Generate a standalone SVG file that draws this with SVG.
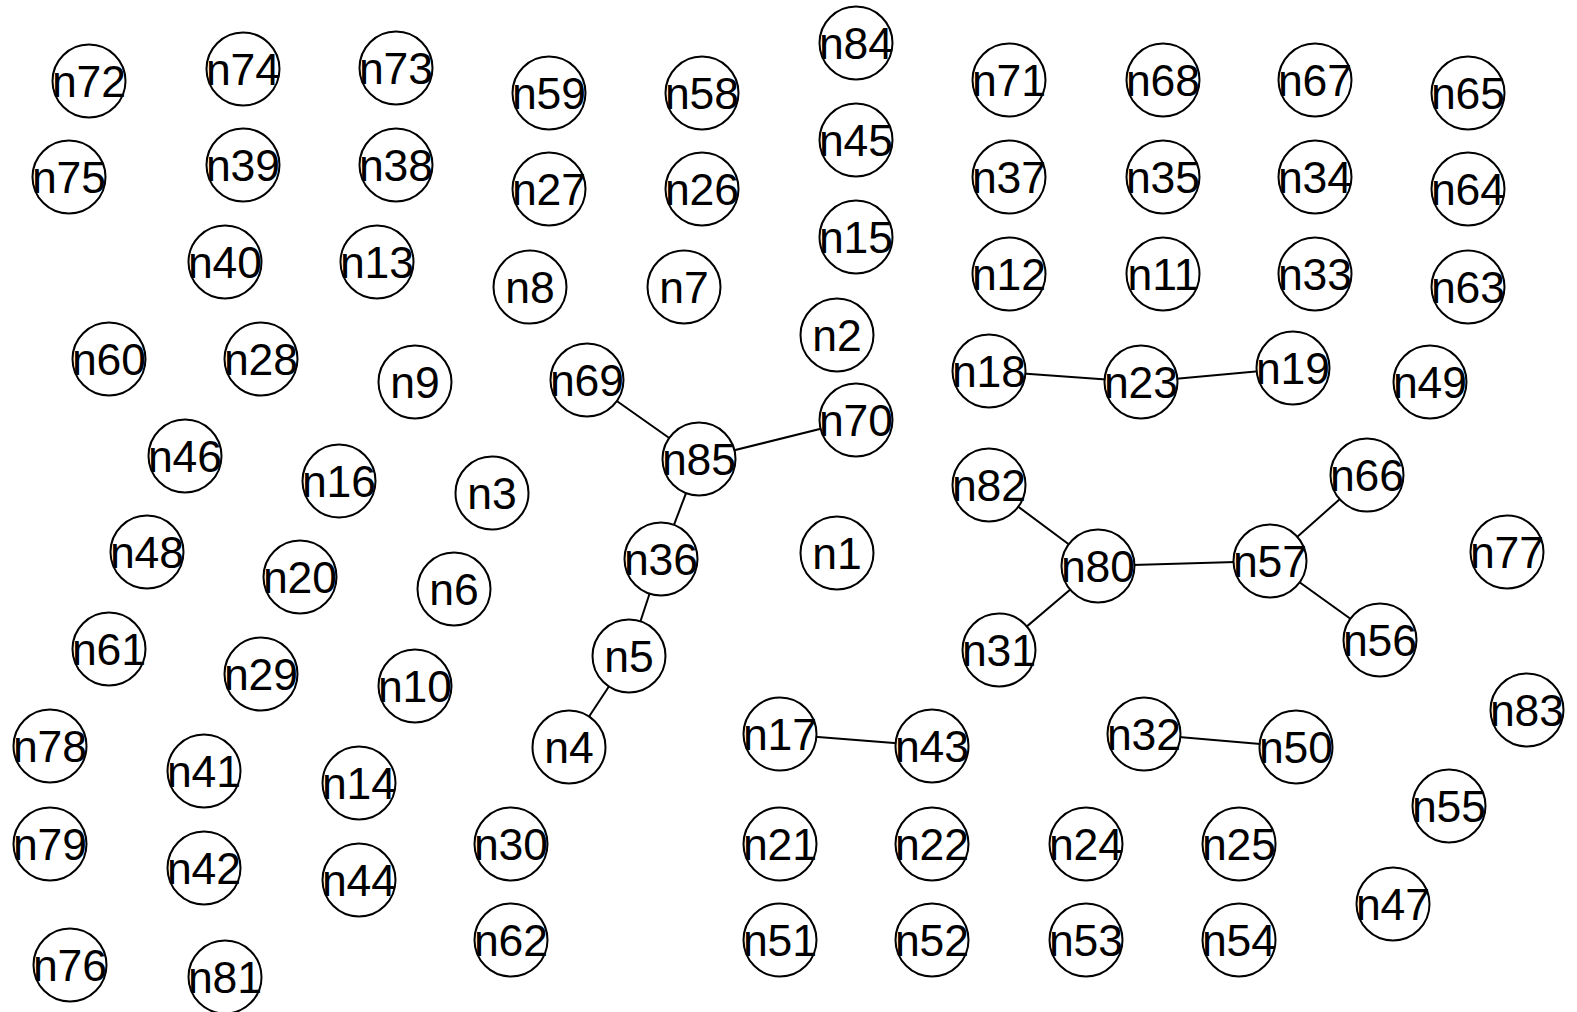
<svg xmlns="http://www.w3.org/2000/svg" width="1577" height="1012" viewBox="0 0 1577 1012">
<style>
.e{stroke:#000;stroke-width:2;fill:none}
.n circle{fill:#fff;stroke:#000;stroke-width:2}
.n text{font-family:"Liberation Sans",Arial,sans-serif;font-size:44.5px;fill:#000;text-anchor:middle}
</style>
<rect width="1577" height="1012" fill="#fff"/>
<g id="edges">
<line class="e" x1="587" y1="380" x2="699" y2="459"/>
<line class="e" x1="699" y1="459" x2="856" y2="420"/>
<line class="e" x1="699" y1="459" x2="661" y2="559"/>
<line class="e" x1="661" y1="559" x2="629" y2="656"/>
<line class="e" x1="629" y1="656" x2="569" y2="747"/>
<line class="e" x1="989" y1="371" x2="1141" y2="382"/>
<line class="e" x1="1141" y1="382" x2="1293" y2="368"/>
<line class="e" x1="989" y1="485" x2="1098" y2="566"/>
<line class="e" x1="1098" y1="566" x2="1270" y2="561"/>
<line class="e" x1="1098" y1="566" x2="999" y2="650"/>
<line class="e" x1="1270" y1="561" x2="1367" y2="475"/>
<line class="e" x1="1270" y1="561" x2="1380" y2="640"/>
<line class="e" x1="780" y1="734" x2="932" y2="746"/>
<line class="e" x1="1144" y1="734" x2="1296" y2="747"/>
</g>
<g id="n72" class="n"><circle cx="89" cy="81" r="36.5"/><text x="89" y="97">n72</text></g>
<g id="n74" class="n"><circle cx="243" cy="69" r="36.5"/><text x="243" y="85">n74</text></g>
<g id="n73" class="n"><circle cx="396" cy="68" r="36.5"/><text x="396" y="84">n73</text></g>
<g id="n59" class="n"><circle cx="549" cy="93" r="36.5"/><text x="549" y="109">n59</text></g>
<g id="n58" class="n"><circle cx="702" cy="93" r="36.5"/><text x="702" y="109">n58</text></g>
<g id="n84" class="n"><circle cx="856" cy="43" r="36.5"/><text x="856" y="59">n84</text></g>
<g id="n71" class="n"><circle cx="1009" cy="80" r="36.5"/><text x="1009" y="96">n71</text></g>
<g id="n68" class="n"><circle cx="1163" cy="80" r="36.5"/><text x="1163" y="96">n68</text></g>
<g id="n67" class="n"><circle cx="1315" cy="80" r="36.5"/><text x="1315" y="96">n67</text></g>
<g id="n65" class="n"><circle cx="1468" cy="93" r="36.5"/><text x="1468" y="109">n65</text></g>
<g id="n75" class="n"><circle cx="69" cy="177" r="36.5"/><text x="69" y="193">n75</text></g>
<g id="n39" class="n"><circle cx="243" cy="165" r="36.5"/><text x="243" y="181">n39</text></g>
<g id="n38" class="n"><circle cx="396" cy="165" r="36.5"/><text x="396" y="181">n38</text></g>
<g id="n27" class="n"><circle cx="549" cy="189" r="36.5"/><text x="549" y="205">n27</text></g>
<g id="n26" class="n"><circle cx="702" cy="189" r="36.5"/><text x="702" y="205">n26</text></g>
<g id="n45" class="n"><circle cx="856" cy="140" r="36.5"/><text x="856" y="156">n45</text></g>
<g id="n37" class="n"><circle cx="1009" cy="177" r="36.5"/><text x="1009" y="193">n37</text></g>
<g id="n35" class="n"><circle cx="1163" cy="177" r="36.5"/><text x="1163" y="193">n35</text></g>
<g id="n34" class="n"><circle cx="1315" cy="177" r="36.5"/><text x="1315" y="193">n34</text></g>
<g id="n64" class="n"><circle cx="1468" cy="189" r="36.5"/><text x="1468" y="205">n64</text></g>
<g id="n40" class="n"><circle cx="225" cy="262" r="36.5"/><text x="225" y="278">n40</text></g>
<g id="n13" class="n"><circle cx="377" cy="262" r="36.5"/><text x="377" y="278">n13</text></g>
<g id="n8" class="n"><circle cx="530" cy="287" r="36.5"/><text x="530" y="303">n8</text></g>
<g id="n7" class="n"><circle cx="684" cy="287" r="36.5"/><text x="684" y="303">n7</text></g>
<g id="n15" class="n"><circle cx="856" cy="237" r="36.5"/><text x="856" y="253">n15</text></g>
<g id="n12" class="n"><circle cx="1009" cy="274" r="36.5"/><text x="1009" y="290">n12</text></g>
<g id="n11" class="n"><circle cx="1163" cy="274" r="36.5"/><text x="1163" y="290">n11</text></g>
<g id="n33" class="n"><circle cx="1315" cy="274" r="36.5"/><text x="1315" y="290">n33</text></g>
<g id="n63" class="n"><circle cx="1468" cy="287" r="36.5"/><text x="1468" y="303">n63</text></g>
<g id="n2" class="n"><circle cx="837" cy="335" r="36.5"/><text x="837" y="351">n2</text></g>
<g id="n60" class="n"><circle cx="109" cy="359" r="36.5"/><text x="109" y="375">n60</text></g>
<g id="n28" class="n"><circle cx="261" cy="359" r="36.5"/><text x="261" y="375">n28</text></g>
<g id="n9" class="n"><circle cx="415" cy="382" r="36.5"/><text x="415" y="398">n9</text></g>
<g id="n69" class="n"><circle cx="587" cy="380" r="36.5"/><text x="587" y="396">n69</text></g>
<g id="n18" class="n"><circle cx="989" cy="371" r="36.5"/><text x="989" y="387">n18</text></g>
<g id="n23" class="n"><circle cx="1141" cy="382" r="36.5"/><text x="1141" y="398">n23</text></g>
<g id="n19" class="n"><circle cx="1293" cy="368" r="36.5"/><text x="1293" y="384">n19</text></g>
<g id="n49" class="n"><circle cx="1430" cy="382" r="36.5"/><text x="1430" y="398">n49</text></g>
<g id="n85" class="n"><circle cx="699" cy="459" r="36.5"/><text x="699" y="475">n85</text></g>
<g id="n70" class="n"><circle cx="856" cy="420" r="36.5"/><text x="856" y="436">n70</text></g>
<g id="n46" class="n"><circle cx="185" cy="456" r="36.5"/><text x="185" y="472">n46</text></g>
<g id="n16" class="n"><circle cx="339" cy="481" r="36.5"/><text x="339" y="497">n16</text></g>
<g id="n3" class="n"><circle cx="492" cy="493" r="36.5"/><text x="492" y="509">n3</text></g>
<g id="n82" class="n"><circle cx="989" cy="485" r="36.5"/><text x="989" y="501">n82</text></g>
<g id="n66" class="n"><circle cx="1367" cy="475" r="36.5"/><text x="1367" y="491">n66</text></g>
<g id="n48" class="n"><circle cx="147" cy="552" r="36.5"/><text x="147" y="568">n48</text></g>
<g id="n20" class="n"><circle cx="300" cy="577" r="36.5"/><text x="300" y="593">n20</text></g>
<g id="n6" class="n"><circle cx="454" cy="589" r="36.5"/><text x="454" y="605">n6</text></g>
<g id="n36" class="n"><circle cx="661" cy="559" r="36.5"/><text x="661" y="575">n36</text></g>
<g id="n1" class="n"><circle cx="837" cy="553" r="36.5"/><text x="837" y="569">n1</text></g>
<g id="n80" class="n"><circle cx="1098" cy="566" r="36.5"/><text x="1098" y="582">n80</text></g>
<g id="n57" class="n"><circle cx="1270" cy="561" r="36.5"/><text x="1270" y="577">n57</text></g>
<g id="n77" class="n"><circle cx="1507" cy="552" r="36.5"/><text x="1507" y="568">n77</text></g>
<g id="n61" class="n"><circle cx="109" cy="649" r="36.5"/><text x="109" y="665">n61</text></g>
<g id="n29" class="n"><circle cx="261" cy="674" r="36.5"/><text x="261" y="690">n29</text></g>
<g id="n10" class="n"><circle cx="415" cy="686" r="36.5"/><text x="415" y="702">n10</text></g>
<g id="n5" class="n"><circle cx="629" cy="656" r="36.5"/><text x="629" y="672">n5</text></g>
<g id="n31" class="n"><circle cx="999" cy="650" r="36.5"/><text x="999" y="666">n31</text></g>
<g id="n56" class="n"><circle cx="1380" cy="640" r="36.5"/><text x="1380" y="656">n56</text></g>
<g id="n83" class="n"><circle cx="1527" cy="710" r="36.5"/><text x="1527" y="726">n83</text></g>
<g id="n78" class="n"><circle cx="50" cy="746" r="36.5"/><text x="50" y="762">n78</text></g>
<g id="n41" class="n"><circle cx="204" cy="771" r="36.5"/><text x="204" y="787">n41</text></g>
<g id="n14" class="n"><circle cx="359" cy="783" r="36.5"/><text x="359" y="799">n14</text></g>
<g id="n4" class="n"><circle cx="569" cy="747" r="36.5"/><text x="569" y="763">n4</text></g>
<g id="n17" class="n"><circle cx="780" cy="734" r="36.5"/><text x="780" y="750">n17</text></g>
<g id="n43" class="n"><circle cx="932" cy="746" r="36.5"/><text x="932" y="762">n43</text></g>
<g id="n32" class="n"><circle cx="1144" cy="734" r="36.5"/><text x="1144" y="750">n32</text></g>
<g id="n50" class="n"><circle cx="1296" cy="747" r="36.5"/><text x="1296" y="763">n50</text></g>
<g id="n55" class="n"><circle cx="1449" cy="806" r="36.5"/><text x="1449" y="822">n55</text></g>
<g id="n79" class="n"><circle cx="50" cy="844" r="36.5"/><text x="50" y="860">n79</text></g>
<g id="n42" class="n"><circle cx="204" cy="868" r="36.5"/><text x="204" y="884">n42</text></g>
<g id="n44" class="n"><circle cx="359" cy="880" r="36.5"/><text x="359" y="896">n44</text></g>
<g id="n30" class="n"><circle cx="511" cy="844" r="36.5"/><text x="511" y="860">n30</text></g>
<g id="n21" class="n"><circle cx="780" cy="844" r="36.5"/><text x="780" y="860">n21</text></g>
<g id="n22" class="n"><circle cx="932" cy="844" r="36.5"/><text x="932" y="860">n22</text></g>
<g id="n24" class="n"><circle cx="1086" cy="844" r="36.5"/><text x="1086" y="860">n24</text></g>
<g id="n25" class="n"><circle cx="1239" cy="844" r="36.5"/><text x="1239" y="860">n25</text></g>
<g id="n47" class="n"><circle cx="1393" cy="904" r="36.5"/><text x="1393" y="920">n47</text></g>
<g id="n76" class="n"><circle cx="70" cy="965" r="36.5"/><text x="70" y="981">n76</text></g>
<g id="n81" class="n"><circle cx="225" cy="977" r="36.5"/><text x="225" y="993">n81</text></g>
<g id="n62" class="n"><circle cx="511" cy="940" r="36.5"/><text x="511" y="956">n62</text></g>
<g id="n51" class="n"><circle cx="780" cy="940" r="36.5"/><text x="780" y="956">n51</text></g>
<g id="n52" class="n"><circle cx="932" cy="940" r="36.5"/><text x="932" y="956">n52</text></g>
<g id="n53" class="n"><circle cx="1086" cy="940" r="36.5"/><text x="1086" y="956">n53</text></g>
<g id="n54" class="n"><circle cx="1239" cy="940" r="36.5"/><text x="1239" y="956">n54</text></g>
</svg>
